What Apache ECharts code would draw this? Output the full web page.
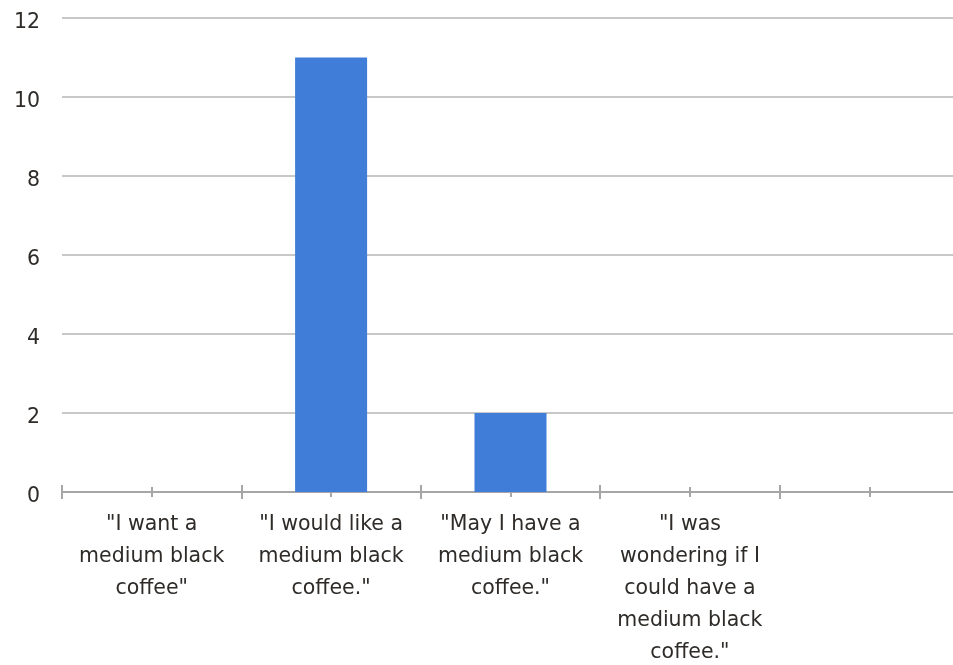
<!DOCTYPE html>
<html>
<head>
<meta charset="utf-8">
<script src="https://cdn.jsdelivr.net/npm/echarts@6/dist/echarts.min.js"></script>
<style>html,body{margin:0;padding:0;background:#fff}#c{width:953px;height:665px}</style>
</head>
<body>
<div id="c"></div>
<script>
const categories = ['"I want a\nmedium black\ncoffee"', '"I would like a\nmedium black\ncoffee."', '"May I have a\nmedium black\ncoffee."', '"I was\nwondering if I\ncould have a\nmedium black\ncoffee."', ''];
const values = [0, 11, 2, 0, null];
const halfSlots = ['', '', '', '', '', '', '', '', '', ''];
const yMin = 0, yMax = 12, yStep = 2;

const font = '"DejaVu Sans", sans-serif';
const textColor = '#2e2b28';
const chart = echarts.init(document.getElementById('c'));
const axisGrey = '#a6a6a6';
function tickAxis(data, inside, len) {
  return {
    type: 'category', data: data, position: 'bottom', gridIndex: 0,
    axisLine: { show: false },
    axisTick: { show: true, inside: inside, length: len, alignWithLabel: false, interval: 0, lineStyle: { color: axisGrey, width: 2 } },
    axisLabel: { show: false }, splitLine: { show: false }
  };
}
chart.setOption({
  animation: false,
  grid: { left: 62, right: -6, top: 18, bottom: 173, containLabel: false, outerBoundsMode: 'none' },
  xAxis: [
    {
      type: 'category', data: categories, position: 'bottom',
      axisLine: { show: true, lineStyle: { color: axisGrey, width: 2 } },
      axisTick: { show: true, inside: false, length: 7, interval: 0, lineStyle: { color: axisGrey, width: 2 } },
      axisLabel: { interval: 0, margin: 17, color: textColor, fontSize: 20.5, lineHeight: 32, fontFamily: font, verticalAlign: 'top' }
    },
    tickAxis(categories, true, 7),
    tickAxis(halfSlots, false, 5),
    tickAxis(halfSlots, true, 5)
  ],
  yAxis: {
    type: 'value', min: yMin, max: yMax, interval: yStep,
    axisLine: { show: false }, axisTick: { show: false },
    axisLabel: { margin: 22, color: textColor, fontSize: 20.5, fontFamily: font, verticalAlign: 'top', lineHeight: 9 },
    splitLine: { lineStyle: { color: '#c8c8c8', width: 2 } }
  },
  series: [{
    type: 'bar', data: values, xAxisIndex: 0, barWidth: 72,
    itemStyle: { color: '#407dd8' }
  }]
});
</script>
</body>
</html>
